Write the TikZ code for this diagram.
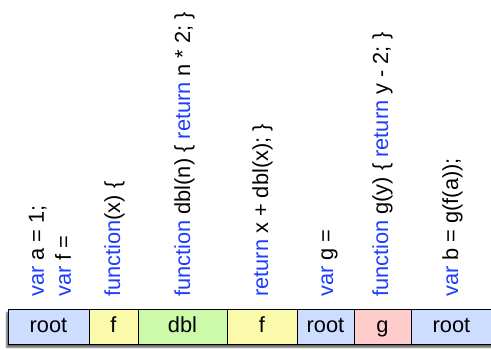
\documentclass[tikz,border=0pt]{standalone}
\usepackage{fontspec}
\setmainfont{Liberation Sans}
\usepackage{tikz}
\usetikzlibrary{positioning,shadows.blur,backgrounds}

\definecolor{kwblue}{HTML}{1E3CFF}
\definecolor{rootblue}{HTML}{CCDDFF}
\definecolor{fyellow}{HTML}{FAFAAA}
\definecolor{dblgreen}{HTML}{CCFAAA}
\definecolor{gpink}{HTML}{FFCCCC}
\newcommand{\kw}[1]{\textcolor{kwblue}{#1}}

\begin{document}
\begin{tikzpicture}[x=1pt,y=1pt,
                    every node/.style={font=\fontsize{21.8}{26}\selectfont},
                    code/.style={rotate=90,anchor=base west,inner sep=0pt},
                    cell/.style={draw,line width=1pt,outer sep=0pt,inner sep=0pt,
                                 minimum height=35pt,text height=15.5pt,text depth=4.5pt}]
    \useasboundingbox (0,0) rectangle (491,350);

    % source lines, one per column
    \node[code] (va) at (44,53) {\kw{var} a = 1;};
    \node[code] (vf) at (71,53) {\kw{var} f =};
    \node[code] (fx) at (120,53) {\kw{function}(x) \{};
    \node[code] (fdbl) at (190,53) {\kw{function} dbl(n) \{ \kw{return} n * 2; \}};
    \node[code] (ret) at (268,53) {\kw{return} x + dbl(x); \}};
    \node[code] (vg) at (333,53) {\kw{var} g =};
    \node[code] (fg) at (388,53) {\kw{function} g(y) \{ \kw{return} y - 2; \}};
    \node[code] (vb) at (458,53) {\kw{var} b = g(f(a));};

    % scope bar
    \node[cell,fill=rootblue,minimum width=81pt,anchor=south west] (root1) at (8,5) {root};
    \node[cell,fill=fyellow,minimum width=49pt,right=0pt of root1] (f1) {f};
    \node[cell,fill=dblgreen,minimum width=89pt,right=0pt of f1] (dbl) {dbl};
    \node[cell,fill=fyellow,minimum width=70pt,right=0pt of dbl] (f2) {f};
    \node[cell,fill=rootblue,minimum width=57pt,right=0pt of f2] (root2) {root};
    \node[cell,fill=gpink,minimum width=57pt,right=0pt of root2] (g) {g};
    \node[cell,fill=rootblue,minimum width=86pt,right=0pt of g] (root3) {\hspace*{-5pt}root};

    \begin{scope}[on background layer]
        \fill[white,blur shadow={shadow xshift=-1.5pt,shadow yshift=-2.5pt,
                                 shadow blur radius=1.5pt,shadow opacity=60}]
            (root1.south west) rectangle (root3.north east);
    \end{scope}
\end{tikzpicture}
\end{document}
